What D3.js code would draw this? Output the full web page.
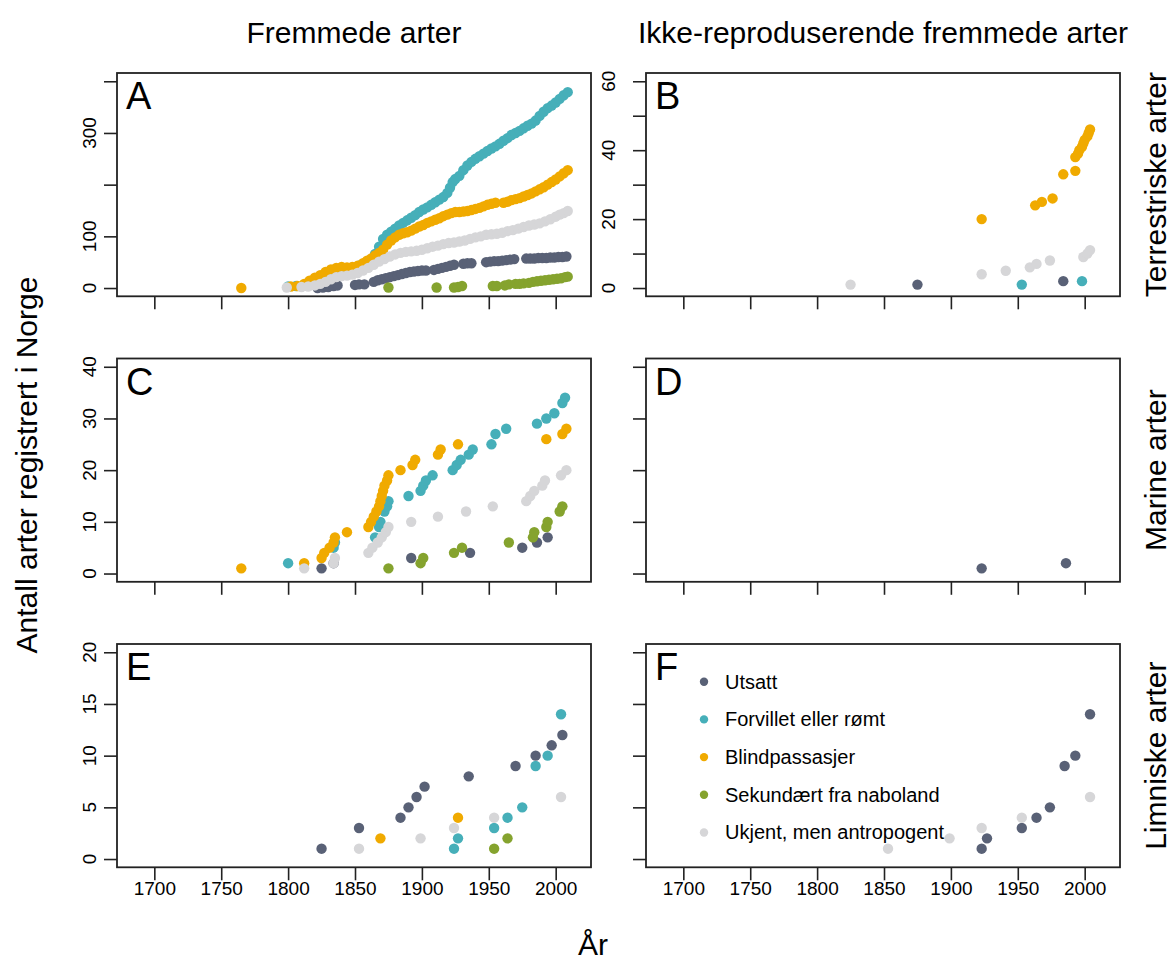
<!DOCTYPE html>
<html>
<head>
<meta charset="utf-8">
<script src="https://cdn.jsdelivr.net/npm/d3@7"></script>
<style>
  body { margin: 0; background: #fff; }
  svg text { font-family: "Liberation Sans", Arial, sans-serif; fill: #000; }
</style>
</head>
<body>
<div id="vis"></div>
<script>
// kategorier og farger
var categories = ['Utsatt', 'Forvillet eller rømt', 'Blindpassasjer', 'Sekundært fra naboland', 'Ukjent, men antropogent'];
var colors     = ['#596176', '#46afb9', '#f0aa00', '#85a32e', '#d6d6d8'];
var yearTicks  = [1700, 1750, 1800, 1850, 1900, 1950, 2000];
var colTitles  = ['Fremmede arter', 'Ikke-reproduserende fremmede arter'];
var rowTitles  = ['Terrestriske arter', 'Marine arter', 'Limniske arter'];

// A: fremmede, terrestriske  [år, kumulativt antall]
var aUtsatt = [[1822,0],[1826,1],[1830,2],[1834,4],[1837,5],[1850,6],[1853,7],[1857,7],[1864,12],[1867,15],[1870,17],[1873,19],[1876,21],[1879,23],[1882,25],[1885,27],[1888,29],[1891,31],[1894,32],[1897,33],[1900,34],[1903,34],[1909,35],[1912,37],[1915,39],[1918,41],[1921,43],[1924,45],[1931,47],[1934,48],[1937,48],[1948,50],[1951,51],[1954,52],[1957,52],[1960,53],[1963,54],[1966,55],[1969,56],[1978,57],[1981,57],[1984,57],[1987,58],[1990,58],[1993,58],[1996,59],[1999,59],[2002,60],[2005,60],[2008,61]];
var aForvillet = [[1800,3],[1806,4],[1812,6],[1818,9],[1824,14],[1830,20],[1836,28],[1842,34],[1848,38],[1854,44],[1858,48],[1862,55],[1865,66],[1868,80],[1871,95],[1874,103],[1877,109],[1880,115],[1883,121],[1886,126],[1889,131],[1892,136],[1895,141],[1898,147],[1901,152],[1904,156],[1907,161],[1910,166],[1913,171],[1916,176],[1919,184],[1921,194],[1923,205],[1925,211],[1928,217],[1931,228],[1934,237],[1937,244],[1940,250],[1943,255],[1946,260],[1949,265],[1952,270],[1955,274],[1958,279],[1961,285],[1964,290],[1967,296],[1970,300],[1973,304],[1976,309],[1979,314],[1982,318],[1985,324],[1988,333],[1991,341],[1994,348],[1997,353],[2000,359],[2003,366],[2006,373],[2009,379]];
var aBlind = [[1765,0],[1802,3],[1807,4],[1812,8],[1816,14],[1820,20],[1824,25],[1828,31],[1832,36],[1836,39],[1840,41],[1844,40],[1848,41],[1852,43],[1856,48],[1859,53],[1862,57],[1865,63],[1868,68],[1871,74],[1874,84],[1877,92],[1880,98],[1883,103],[1886,106],[1889,108],[1892,111],[1895,115],[1898,119],[1901,122],[1904,126],[1907,129],[1910,132],[1913,135],[1916,139],[1919,142],[1922,145],[1925,147],[1928,147],[1931,148],[1934,149],[1937,151],[1940,153],[1943,155],[1946,158],[1949,161],[1952,163],[1955,165],[1961,165],[1964,167],[1967,170],[1970,172],[1973,174],[1976,177],[1979,180],[1982,183],[1985,187],[1988,191],[1991,195],[1994,200],[1997,205],[2000,210],[2003,216],[2006,222],[2009,228]];
var aSekund = [[1875,1],[1911,1],[1924,1],[1927,2],[1930,4],[1953,4],[1956,4],[1962,5],[1965,7],[1970,8],[1973,8],[1976,9],[1980,10],[1983,12],[1986,13],[1989,14],[1992,15],[1995,16],[1998,17],[2001,18],[2004,19],[2007,21],[2009,22]];
var aUkjent = [[1799,1],[1810,2],[1815,3],[1820,5],[1824,8],[1828,12],[1832,17],[1836,21],[1840,23],[1844,24],[1848,26],[1852,29],[1856,34],[1860,39],[1864,45],[1868,51],[1872,56],[1876,61],[1880,65],[1884,68],[1888,70],[1892,71],[1896,72],[1900,74],[1904,77],[1908,80],[1912,82],[1916,85],[1920,87],[1924,88],[1928,90],[1932,92],[1936,95],[1940,98],[1944,100],[1948,103],[1952,104],[1956,105],[1960,107],[1964,110],[1968,112],[1972,115],[1976,118],[1980,121],[1984,123],[1988,125],[1992,129],[1996,133],[2000,138],[2003,142],[2006,145],[2009,149]];

// B: ikke-reproduserende, terrestriske
var bUtsatt    = [[1875,1],[1984,2]];
var bForvillet = [[1953,1],[1998,2]];
var bBlind     = [[1923,20],[1963,24],[1968,25],[1976,26],[1984,33],[1993,34],[1993,38],[1995,39],[1996,40],[1998,41],[1999,42],[2000,43],[2002,44],[2003,45],[2004,46]];
var bSekund    = [];
var bUkjent    = [[1825,1],[1923,4],[1941,5],[1959,6],[1964,7],[1974,8],[1999,9],[2002,10],[2004,11]];

// C: fremmede, marine
var cUtsatt    = [[1825,1],[1834,2],[1892,3],[1936,4],[1975,5],[1986,6],[1994,7]];
var cForvillet = [[1800,2],[1834,5],[1835,6],[1865,7],[1868,9],[1869,10],[1872,12],[1874,13],[1875,14],[1890,15],[1899,16],[1901,17],[1903,18],[1908,19],[1923,20],[1926,21],[1929,22],[1935,23],[1938,24],[1952,25],[1955,27],[1963,28],[1986,29],[1993,30],[1999,31],[2005,33],[2007,34]];
var cBlind     = [[1765,1],[1812,2],[1825,3],[1827,4],[1831,5],[1834,6],[1835,7],[1844,8],[1860,9],[1862,10],[1864,11],[1866,12],[1868,13],[1869,14],[1870,15],[1871,16],[1872,17],[1874,18],[1875,19],[1884,20],[1893,21],[1895,22],[1912,23],[1914,24],[1927,25],[1993,26],[2005,27],[2008,28]];
var cSekund    = [[1875,1],[1899,2],[1901,3],[1924,4],[1930,5],[1965,6],[1983,7],[1984,8],[1993,9],[1994,10],[2003,12],[2005,13]];
var cUkjent    = [[1812,1],[1834,2],[1835,3],[1860,4],[1863,5],[1867,6],[1870,7],[1873,8],[1875,9],[1892,10],[1912,11],[1933,12],[1953,13],[1978,14],[1981,15],[1984,16],[1990,17],[1992,18],[2004,19],[2008,20]];

// D: ikke-reproduserende, marine
var dUtsatt = [[1923,1],[1986,2]];

// E: fremmede, limniske
var eUtsatt    = [[1825,1],[1853,3],[1884,4],[1890,5],[1896,6],[1902,7],[1935,8],[1970,9],[1985,10],[1997,11],[2005,12]];
var eForvillet = [[1924,1],[1927,2],[1954,3],[1964,4],[1975,5],[1985,9],[1994,10],[2004,14]];
var eBlind     = [[1869,2],[1927,4]];
var eSekund    = [[1954,1],[1964,2]];
var eUkjent    = [[1853,1],[1899,2],[1924,3],[1954,4],[2004,6]];

// F: ikke-reproduserende, limniske
var fUtsatt = [[1923,1],[1927,2],[1953,3],[1964,4],[1974,5],[1985,9],[1993,10],[2004,14]];
var fUkjent = [[1853,1],[1899,2],[1923,3],[1953,4],[2004,6]];

var panels = [
  {id:'A', col:0, row:0, ymax:400, ticks:[0,100,200,300,400], labels:[0,100,300], series:[aUtsatt,aForvillet,aBlind,aSekund,aUkjent]},
  {id:'B', col:1, row:0, ymax:60,  ticks:[0,10,20,30,40,50,60], labels:[0,20,40,60], series:[bUtsatt,bForvillet,bBlind,bSekund,bUkjent]},
  {id:'C', col:0, row:1, ymax:40,  ticks:[0,10,20,30,40], labels:[0,10,20,30,40], series:[cUtsatt,cForvillet,cBlind,cSekund,cUkjent]},
  {id:'D', col:1, row:1, ymax:40,  ticks:[0,10,20,30,40], labels:[], series:[dUtsatt,[],[],[],[]]},
  {id:'E', col:0, row:2, ymax:20,  ticks:[0,5,10,15,20], labels:[0,5,10,15,20], series:[eUtsatt,eForvillet,eBlind,eSekund,eUkjent]},
  {id:'F', col:1, row:2, ymax:20,  ticks:[0,5,10,15,20], labels:[], series:[fUtsatt,[],[],[],fUkjent]}
];

var width = 1171, height = 966;
var colX = [117, 646];
var panelW = 474;
var rowY = [73, 358.5, 644];
var panelH = 223.3;
var tickLen = 13;
var dotR = 5.2;

var svg = d3.select('#vis')
  .append('svg')
  .attr('width', width)
  .attr('height', height);

var xDomain = [1672.1, 2026.4];

panels.forEach(function(p){
  var g = svg.append('g')
    .attr('transform', 'translate(' + colX[p.col] + ',' + rowY[p.row] + ')');

  var xScale = d3.scaleLinear().domain(xDomain).range([0, panelW]);
  var yScale = d3.scaleLinear().domain([-0.04 * p.ymax, 1.04 * p.ymax]).range([panelH, 0]);

  var xAxis = d3.axisBottom(xScale).tickValues(yearTicks).tickSize(tickLen).tickPadding(1)
    .tickFormat(p.row === 2 ? d3.format('d') : function(){ return ''; });
  var xg = g.append('g')
    .attr('class', 'x axis')
    .attr('transform', 'translate(0,' + panelH + ')')
    .call(xAxis);

  var yAxis = d3.axisLeft(yScale).tickValues(p.ticks).tickSize(tickLen).tickFormat(function(){ return ''; });
  var yg = g.append('g')
    .attr('class', 'y axis')
    .call(yAxis);

  [xg, yg].forEach(function(a){
    a.select('.domain').remove();
    a.selectAll('.tick line').attr('stroke', '#222').attr('stroke-width', 1.6);
  });
  xg.selectAll('.tick text')
    .style('font-size', '19px')
    .attr('fill', '#000');

  // y tick labels, rotated like base R
  var lx = p.col === 0 ? -21 : -31;
  g.selectAll('.ylab')
    .data(p.labels)
    .enter().append('text')
    .attr('class', 'ylab')
    .attr('transform', function(d){ return 'translate(' + lx + ',' + yScale(d) + ') rotate(-90)'; })
    .attr('text-anchor', 'middle')
    .style('font-size', '19px')
    .text(function(d){ return d; });

  // punkter
  p.series.forEach(function(s, i){
    g.selectAll('.pt' + i)
      .data(s)
      .enter().append('circle')
      .attr('class', 'pt' + i)
      .attr('cx', function(d){ return xScale(d[0]); })
      .attr('cy', function(d){ return yScale(d[1]); })
      .attr('r', dotR)
      .attr('fill', colors[i]);
  });

  // ramme
  g.append('rect')
    .attr('width', panelW)
    .attr('height', panelH)
    .attr('fill', 'none')
    .attr('stroke', '#222')
    .attr('stroke-width', 1.8);

  g.append('text')
    .attr('x', 9)
    .attr('y', 36)
    .style('font-size', '38px')
    .text(p.id);
});

// legend i panel F
var legend = svg.append('g')
  .attr('transform', 'translate(' + (colX[1] + 58) + ',' + (rowY[2] + 37.7) + ')');
categories.forEach(function(c, i){
  legend.append('circle')
    .attr('cx', 0)
    .attr('cy', i * 37.7)
    .attr('r', 4.2)
    .attr('fill', colors[i]);
  legend.append('text')
    .attr('x', 21)
    .attr('y', i * 37.7)
    .attr('dy', '0.35em')
    .style('font-size', '20px')
    .text(c);
});

// kolonnetitler
colTitles.forEach(function(t, i){
  svg.append('text')
    .attr('x', colX[i] + panelW / 2)
    .attr('y', 43)
    .attr('text-anchor', 'middle')
    .style('font-size', '30px')
    .text(t);
});

// radtitler til høyre
rowTitles.forEach(function(t, i){
  svg.append('text')
    .attr('transform', 'translate(1166,' + (rowY[i] + panelH / 2) + ') rotate(-90)')
    .attr('text-anchor', 'middle')
    .style('font-size', '30px')
    .text(t);
});

// akseetiketter
svg.append('text')
  .attr('transform', 'translate(37,465) rotate(-90)')
  .attr('text-anchor', 'middle')
  .style('font-size', '30px')
  .text('Antall arter registrert i Norge');

svg.append('text')
  .attr('x', 593)
  .attr('y', 955)
  .attr('text-anchor', 'middle')
  .style('font-size', '30px')
  .text('År');
</script>
</body>
</html>
